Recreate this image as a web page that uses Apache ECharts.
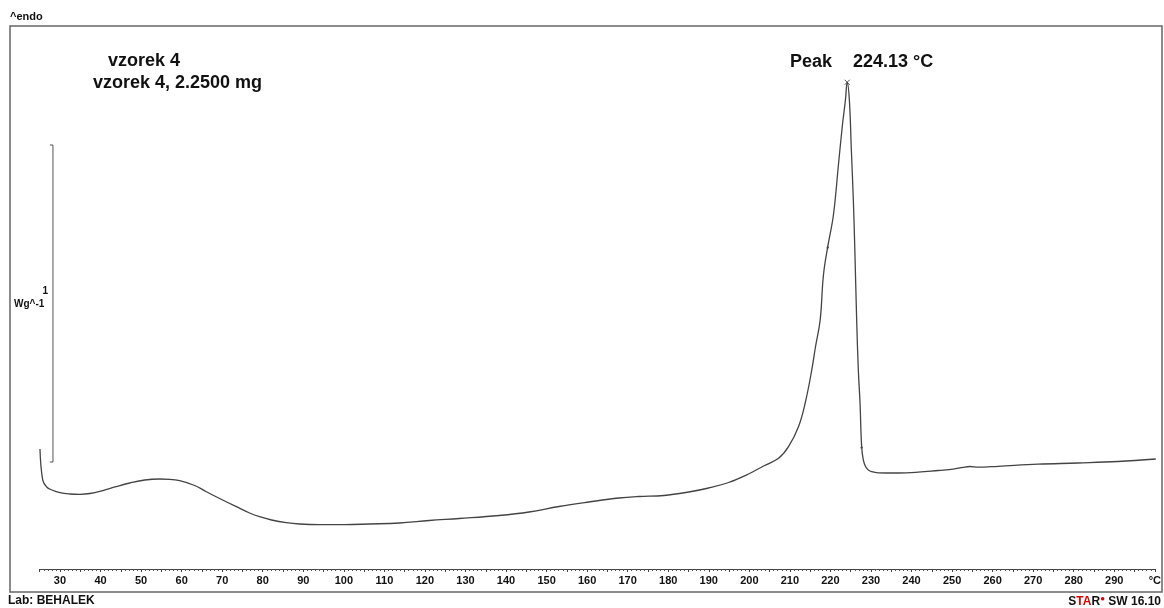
<!DOCTYPE html>
<html>
<head>
<meta charset="utf-8">
<script src="https://cdn.jsdelivr.net/npm/echarts@6/dist/echarts.min.js"></script>
<style>html,body{margin:0;padding:0;background:#fff;}#c{width:1164px;height:608px;}</style>
</head>
<body>
<div id="c"></div>
<script>
// Temperature (°C) of the DSC curve
var temps = [25.07,25.74,26.72,28.03,30.00,32.46,34.92,37.38,40.58,43.53,47.22,50.92,54.61,57.07,59.53,63.22,66.10,69.87,73.49,76.76,79.22,82.17,85.79,89.07,93.99,100.14,106.30,113.68,121.06,128.45,138.29,145.68,153.06,160.44,167.83,172.75,178.90,185.05,189.98,194.90,199.82,203.51,207.20,209.66,212.12,213.78,215.40,216.31,217.47,218.28,219.34,220.74,221.97,222.96,223.70,224.13,224.67,225.16,225.65,226.02,226.47,226.88,227.30,227.70,228.12,228.69,229.35,230.17,231.81,236.74,241.66,246.58,250.27,252.73,254.40,256.42,261.35,271.19,281.04,290.89,300.24];
// Heat flow (W/g, endo up, arbitrary offset)
var heatFlow = [0.3785,0.2808,0.2587,0.2492,0.2407,0.2366,0.2356,0.2382,0.2476,0.2587,0.2713,0.2808,0.2839,0.2830,0.2785,0.2634,0.2438,0.2192,0.1965,0.1767,0.1650,0.1546,0.1461,0.1420,0.1401,0.1401,0.1420,0.1451,0.1530,0.1593,0.1688,0.1798,0.1972,0.2114,0.2240,0.2287,0.2319,0.2429,0.2555,0.2729,0.2997,0.3249,0.3492,0.3858,0.4489,0.5237,0.6278,0.7003,0.7855,0.9274,1.0167,1.1167,1.2744,1.4006,1.4795,1.5353,1.4795,1.3218,1.1640,1.0063,0.7855,0.6278,0.5237,0.3858,0.3438,0.3227,0.3123,0.3069,0.3035,0.3028,0.3054,0.3107,0.3148,0.3208,0.3233,0.3211,0.3240,0.3306,0.3344,0.3391,0.3470];
// Peak
var peakT = 224.13;
var peakV = 1.5353;
// Integration limit marks
var limitT = [219.34, 227.70];
var limitV = [1.0167, 0.3858];
// Scale bar: 1 W/g
var scaleBarT = [27.5, 28.27, 28.27, 27.5];
var scaleBarV = [1.3375, 1.3375, 0.3375, 0.3375];
// Axis ticks
var tickLabels = [30,40,50,60,70,80,90,100,110,120,130,140,150,160,170,180,190,200,210,220,230,240,250,260,270,280,290,300];
var minorTicks = [];
for (var t = 25; t <= 300; t++) minorTicks.push(t);
var midTicks = [];
for (var m = 25; m <= 300; m += 5) midTicks.push(m);

var curve = temps.map(function (t, i) { return [t, heatFlow[i]]; });
var limits = limitT.map(function (t, i) { return [t, limitV[i]]; });
var scaleBar = scaleBarT.map(function (t, i) { return [t, scaleBarV[i]]; });

var font = 'Liberation Sans, Arial, Helvetica, sans-serif';
var chart = echarts.init(document.getElementById('c'), null, {renderer: 'canvas'});
chart.setOption({
  animation: false,
  backgroundColor: '#fff',
  grid: {left: 39.7, right: 7, top: 26, bottom: 39, containLabel: false},
  xAxis: [{
    type: 'value', min: 25, max: 300,
    axisLine: {show: true, lineStyle: {color: '#444', width: 1}},
    axisTick: {show: true, length: 2, customValues: minorTicks, lineStyle: {color: '#555', width: 1}},
    axisLabel: {show: true, customValues: tickLabels, margin: 6, color: '#111', fontFamily: font, fontWeight: 'bold', fontSize: 11,
      formatter: function (v) { return v === 300 ? '°C' : String(v); }},
    splitLine: {show: false}
  }, {
    type: 'value', min: 25, max: 300, position: 'bottom',
    axisLine: {show: false},
    axisTick: {show: true, length: 3, customValues: midTicks, lineStyle: {color: '#444', width: 1}},
    axisLabel: {show: false},
    splitLine: {show: false}
  }],
  yAxis: {type: 'value', min: 0, max: 1.7129, show: false},
  series: [{
    type: 'line', data: curve, smooth: 0.4, symbol: 'none',
    lineStyle: {color: '#444', width: 1.3}
  }, {
    type: 'line', data: scaleBar, symbol: 'none',
    lineStyle: {color: '#555', width: 1}
  }, {
    type: 'scatter', data: [[peakT, peakV]], symbol: 'path://M0,0L10,10M10,0L0,10', symbolSize: 5,
    itemStyle: {color: 'none', borderColor: '#222', borderWidth: 1}
  }, {
    type: 'scatter', data: limits, symbol: 'triangle', symbolSize: 3,
    itemStyle: {color: '#222'}
  }],
  graphic: [
    {type: 'rect', shape: {x: 10, y: 26, width: 1152, height: 566}, style: {fill: 'none', stroke: '#666', lineWidth: 1.5}, silent: true},
    {type: 'text', left: 10, top: 11, style: {text: '^endo', font: 'bold 11px ' + font, fill: '#111'}},
    {type: 'text', left: 8, top: 595, style: {text: 'Lab: BEHALEK', font: 'bold 12px ' + font, fill: '#111'}},
    {type: 'text', right: 3, top: 595, style: {
      rich: {b: {font: 'bold 12px ' + font, fill: '#111'}, r: {font: 'bold 12px ' + font, fill: '#e00000'}, d: {font: 'bold 8px ' + font, fill: '#e00000', verticalAlign: 'top', padding: [0,0,6,0]}},
      text: '{b|S}{r|TA}{b|R}{d|●}{b| SW 16.10}'}},
    {type: 'text', left: 108, top: 52, style: {text: 'vzorek 4', font: 'bold 18px ' + font, fill: '#111'}},
    {type: 'text', left: 93, top: 74, style: {text: 'vzorek 4, 2.2500 mg', font: 'bold 18px ' + font, fill: '#111'}},
    {type: 'text', left: 790, top: 53, style: {text: 'Peak', font: 'bold 18px ' + font, fill: '#111'}},
    {type: 'text', left: 853, top: 53, style: {text: '224.13 °C', font: 'bold 18px ' + font, fill: '#111'}},
    {type: 'text', right: 1164 - 48, top: 286, style: {text: '1', font: 'bold 10px ' + font, fill: '#111', align: 'right'}},
    {type: 'text', left: 14, top: 299, style: {text: 'Wg^-1', font: 'bold 10px ' + font, fill: '#111'}}
  ]
});
</script>
</body>
</html>
